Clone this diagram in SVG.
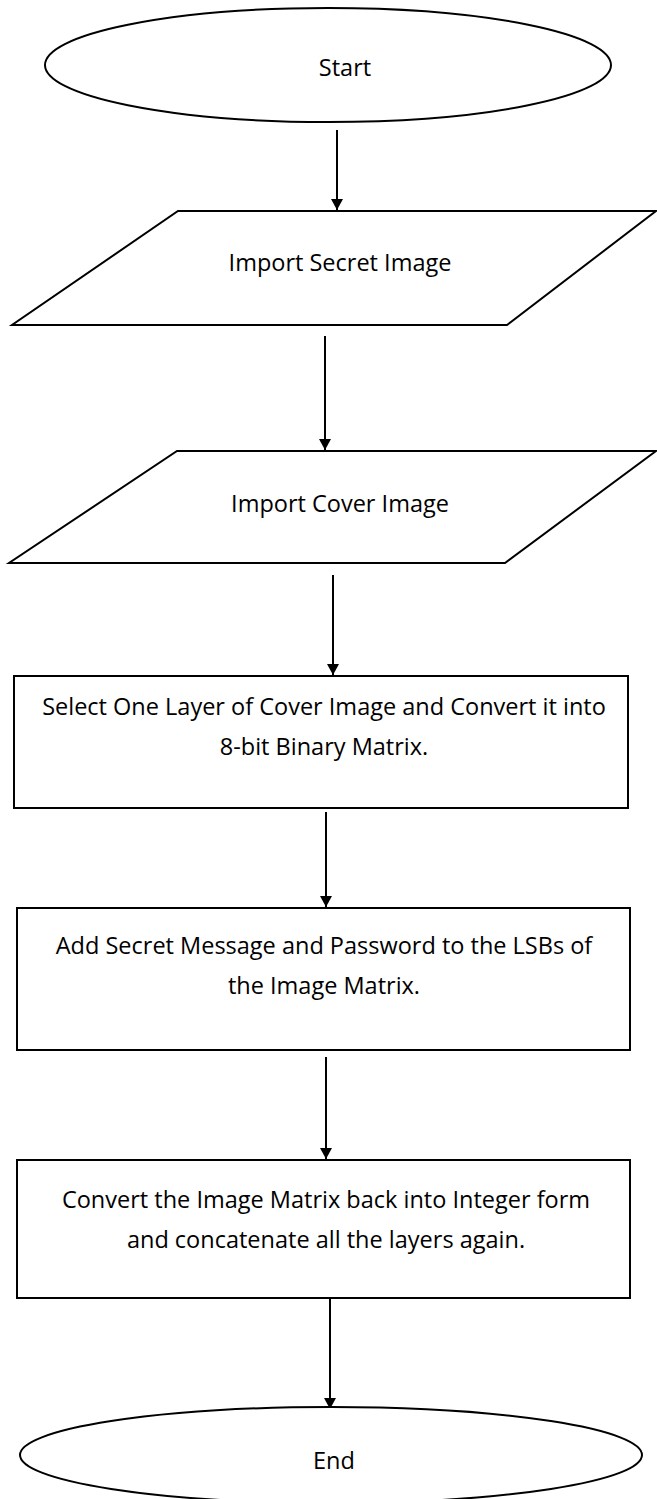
<svg xmlns="http://www.w3.org/2000/svg" width="657" height="1499" viewBox="0 0 657 1499">
<defs>
<marker id="ah" markerWidth="11" markerHeight="12" refX="11" refY="6" orient="auto" markerUnits="userSpaceOnUse">
<path d="M0,0 L11,6 L0,12 Z" fill="#000"/>
</marker>
<style>
.s{fill:#fff;stroke:#000;stroke-width:2}
.t{font-family:"Open Sans",Lato,sans-serif;font-size:23.5px;fill:#000;text-anchor:middle}
.c{stroke:#000;stroke-width:2;fill:none;marker-end:url(#ah)}
</style>
</defs>
<rect width="657" height="1499" fill="#fff"/>
<g id="connectors">
<line class="c" x1="337" y1="130" x2="337" y2="210"/>
<line class="c" x1="325" y1="336" x2="325" y2="450"/>
<line class="c" x1="333" y1="575" x2="333" y2="675"/>
<line class="c" x1="326" y1="812" x2="326" y2="907"/>
<line class="c" x1="326" y1="1057" x2="326" y2="1159"/>
<line class="c" x1="330" y1="1298" x2="330" y2="1409"/>
</g>
<g id="start">
<ellipse class="s" cx="328" cy="65" rx="283" ry="57"/>
<text class="t" x="345" y="76">Start</text>
</g>
<g id="secret">
<polygon class="s" points="178,211 656,211 507,325 12,325"/>
<text class="t" x="340" y="271">Import Secret Image</text>
</g>
<g id="cover">
<polygon class="s" points="177,451 656,451 505,563 9,563"/>
<text class="t" x="340" y="512">Import Cover Image</text>
</g>
<g id="select">
<rect class="s" x="14" y="676" width="614" height="132"/>
<text class="t" x="324" y="715">Select One Layer of Cover Image and Convert it into</text>
<text class="t" x="324" y="755">8-bit Binary Matrix.</text>
</g>
<g id="add">
<rect class="s" x="17" y="908" width="613" height="142"/>
<text class="t" x="324" y="954">Add Secret Message and Password to the LSBs of</text>
<text class="t" x="324" y="994">the Image Matrix.</text>
</g>
<g id="convert">
<rect class="s" x="17" y="1160" width="613" height="138"/>
<text class="t" x="326" y="1208">Convert the Image Matrix back into Integer form</text>
<text class="t" x="326" y="1248">and concatenate all the layers again.</text>
</g>
<g id="end">
<ellipse class="s" cx="331" cy="1455" rx="311" ry="48"/>
<text class="t" x="334" y="1469">End</text>
</g>
</svg>
